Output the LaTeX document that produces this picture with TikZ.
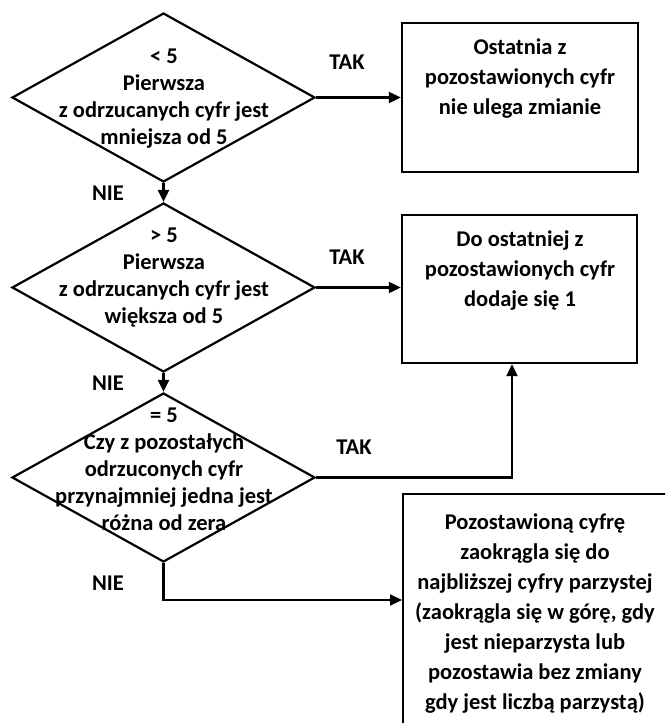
\documentclass[tikz,border=0pt]{standalone}
\usepackage{fontspec}
\setmainfont{Carlito}
\usetikzlibrary{shapes.geometric, arrows.meta, positioning}

\begin{document}
\begin{tikzpicture}[x=1pt, y=-1pt, >={Triangle[length=12pt, width=11pt]},
	decision/.style={diamond, draw, line width=2.2pt, minimum width=303pt, minimum height=169pt, inner sep=0pt},
	outcome/.style={rectangle, draw, line width=2.4pt, inner sep=0pt},
	qtext/.style={align=center, inner sep=0pt, font=\bfseries\fontsize{22.5}{27}\selectfont},
	btext/.style={align=center, inner sep=0pt, font=\bfseries\fontsize{22.5}{30}\selectfont},
	answer/.style={inner sep=0pt, font=\bfseries\fontsize{22.5}{25}\selectfont},
	flow/.style={line width=2.2pt, ->}]
	% --- 1. FRAME ---
	\useasboundingbox (0,0) rectangle (665,723);
	\clip (0,0) rectangle (665,723);
	
	% --- 2. DECISIONS ---
	\node[decision] (d1) at (163.5, 97.5) {};
	\node[decision] (d2) at (163.5, 287.5) {};
	\node[decision] (d3) at (163.5, 477.5) {};
	
	\node[qtext] (q1) at (164, 99) {< 5\\Pierwsza\\z odrzucanych cyfr jest\\mniejsza od 5};
	\node[qtext] (q2) at (164, 278) {> 5\\Pierwsza\\z odrzucanych cyfr jest\\większa od 5};
	\node[qtext] (q3) at (164, 469) {= 5\\Czy z pozostałych\\odrzuconych cyfr\\przynajmniej jedna jest\\różna od zera};
	
	% --- 3. RESULTS ---
	\node[outcome, minimum width=236pt, minimum height=149pt] (b1) at (520, 97.5) {};
	\node[outcome, minimum width=235pt, minimum height=148pt] (b2) at (519.5, 289) {};
	\node[outcome, minimum width=284pt, minimum height=320pt, anchor=north west] (b3) at (402, 493) {};
	
	\node[btext] (r1) at (520, 78.5) {Ostatnia z\\pozostawionych cyfr\\nie ulega zmianie};
	\node[btext] (r2) at (520, 270.5) {Do ostatniej z\\pozostawionych cyfr\\dodaje się 1};
	\node[btext] (r3) at (535, 614) {Pozostawioną cyfrę\\zaokrągla się do\\najbliższej cyfry parzystej\\(zaokrągla się w górę, gdy\\jest nieparzysta lub\\pozostawia bez zmiany\\gdy jest liczbą parzystą)};
	
	% --- 4. CONNECTORS ---
	\draw[flow] (d1.east) -- (d1.east -| b1.west);
	\draw[flow] (d1.south) -- (d2.north);
	\draw[flow] (d2.east) -- (d2.east -| b2.west);
	\draw[flow] (d2.south) -- (d3.north);
	\draw[flow] (d3.east) -| ([xshift=-7.5pt]b2.south);
	
	\coordinate (turn) at (163.5, 600);
	\draw[flow] (d3.south) -- (turn) -- (turn -| b3.west);
	
	% --- 5. ANSWERS ---
	\node[answer] (tak1) at (347, 62) {TAK};
	\node[answer] (tak2) at (347, 257) {TAK};
	\node[answer] (tak3) at (354, 447) {TAK};
	\node[answer] (nie1) at (108, 193) {NIE};
	\node[answer] (nie2) at (108, 383) {NIE};
	\node[answer] (nie3) at (108, 583) {NIE};
	
\end{tikzpicture}
\end{document}
